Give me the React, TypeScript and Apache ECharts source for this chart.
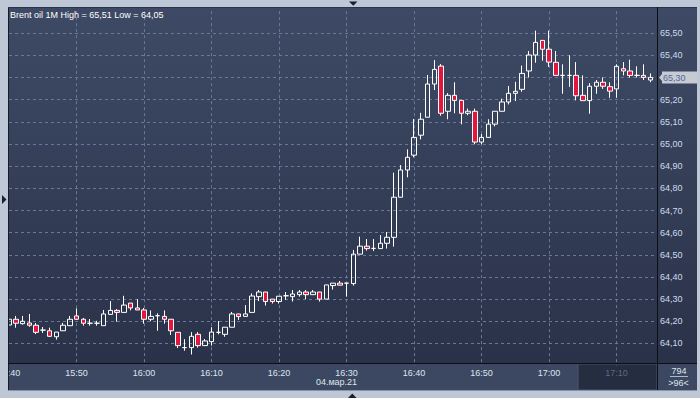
import React, { useEffect, useRef } from 'react';
import * as echarts from 'echarts';

const times = [
  '15:40','15:41','15:42','15:43','15:44','15:45','15:46','15:47','15:48','15:49',
  '15:50','15:51','15:52','15:53','15:54','15:55','15:56','15:57','15:58','15:59',
  '16:00','16:01','16:02','16:03','16:04','16:05','16:06','16:07','16:08','16:09',
  '16:10','16:11','16:12','16:13','16:14','16:15','16:16','16:17','16:18','16:19',
  '16:20','16:21','16:22','16:23','16:24','16:25','16:26','16:27','16:28','16:29',
  '16:30','16:31','16:32','16:33','16:34','16:35','16:36','16:37','16:38','16:39',
  '16:40','16:41','16:42','16:43','16:44','16:45','16:46','16:47','16:48','16:49',
  '16:50','16:51','16:52','16:53','16:54','16:55','16:56','16:57','16:58','16:59',
  '17:00','17:01','17:02','17:03','17:04','17:05','17:06','17:07','17:08','17:09',
  '17:10','17:11','17:12','17:13','17:14','17:15','17:16'
];

const opens = [
  64.183, 64.209, 64.189, 64.192, 64.182, 64.160, 64.157, 64.130, 64.157, 64.180,
  64.224, 64.209, 64.191, 64.191, 64.180, 64.231, 64.249, 64.240, 64.282, 64.260,
  64.251, 64.209, 64.225, 64.222, 64.209, 64.150, 64.081, 64.081, 64.141, 64.090,
  64.108, 64.150, 64.141, 64.173, 64.233, 64.222, 64.240, 64.311, 64.332, 64.300,
  64.289, 64.315, 64.311, 64.320, 64.332, 64.320, 64.332, 64.300, 64.361, 64.372,
  64.372, 64.370, 64.503, 64.539, 64.529, 64.528, 64.552, 64.579, 64.760, 64.883,
  64.950, 65.040, 65.121, 65.271, 65.352, 65.148, 65.220, 65.197, 65.139, 65.148,
  65.009, 65.030, 65.090, 65.148, 65.190, 65.229, 65.247, 65.330, 65.402, 65.468,
  65.428, 65.369, 65.310, 65.310, 65.310, 65.220, 65.196, 65.261, 65.279, 65.259,
  65.249, 65.340, 65.330, 65.310, 65.310, 65.289
];
const closes = [
  64.209, 64.191, 64.200, 64.182, 64.150, 64.160, 64.132, 64.151, 64.182, 64.209,
  64.209, 64.191, 64.191, 64.191, 64.233, 64.249, 64.240, 64.273, 64.260, 64.251,
  64.209, 64.222, 64.225, 64.209, 64.157, 64.090, 64.081, 64.132, 64.090, 64.111,
  64.151, 64.150, 64.173, 64.233, 64.221, 64.233, 64.314, 64.332, 64.289, 64.289,
  64.313, 64.315, 64.323, 64.332, 64.320, 64.332, 64.300, 64.364, 64.372, 64.363,
  64.372, 64.503, 64.539, 64.528, 64.529, 64.552, 64.579, 64.760, 64.883, 64.940,
  65.030, 65.112, 65.271, 65.337, 65.139, 65.220, 65.197, 65.139, 65.148, 65.009,
  65.030, 65.090, 65.148, 65.190, 65.229, 65.238, 65.319, 65.402, 65.459, 65.428,
  65.370, 65.310, 65.310, 65.310, 65.218, 65.196, 65.261, 65.279, 65.261, 65.239,
  65.351, 65.330, 65.310, 65.310, 65.301, 65.301
];
const lows = [
  64.175, 64.171, 64.185, 64.175, 64.142, 64.147, 64.129, 64.117, 64.156, 64.179,
  64.206, 64.180, 64.180, 64.180, 64.180, 64.231, 64.198, 64.240, 64.249, 64.251,
  64.189, 64.200, 64.157, 64.189, 64.138, 64.079, 64.067, 64.050, 64.081, 64.090,
  64.090, 64.141, 64.130, 64.173, 64.206, 64.222, 64.240, 64.291, 64.271, 64.280,
  64.280, 64.296, 64.289, 64.311, 64.300, 64.320, 64.289, 64.300, 64.343, 64.363,
  64.311, 64.361, 64.503, 64.519, 64.517, 64.528, 64.528, 64.537, 64.760, 64.850,
  64.940, 65.021, 65.121, 65.244, 65.128, 65.112, 65.139, 65.089, 65.130, 64.999,
  64.999, 65.030, 65.080, 65.148, 65.179, 65.194, 65.236, 65.300, 65.367, 65.376,
  65.348, 65.310, 65.227, 65.258, 65.197, 65.196, 65.137, 65.227, 65.249, 65.209,
  65.209, 65.310, 65.300, 65.300, 65.289, 65.279
];
const highs = [
  64.220, 64.224, 64.224, 64.233, 64.192, 64.174, 64.171, 64.151, 64.193, 64.224,
  64.258, 64.215, 64.210, 64.202, 64.251, 64.291, 64.255, 64.315, 64.282, 64.300,
  64.260, 64.249, 64.236, 64.249, 64.209, 64.150, 64.119, 64.151, 64.151, 64.120,
  64.173, 64.201, 64.173, 64.242, 64.233, 64.273, 64.326, 64.341, 64.332, 64.300,
  64.313, 64.332, 64.341, 64.341, 64.341, 64.341, 64.332, 64.364, 64.372, 64.382,
  64.372, 64.522, 64.582, 64.571, 64.571, 64.589, 64.603, 64.871, 64.905, 64.976,
  65.113, 65.141, 65.312, 65.379, 65.361, 65.230, 65.279, 65.197, 65.160, 65.160,
  65.045, 65.112, 65.148, 65.205, 65.262, 65.281, 65.354, 65.420, 65.512, 65.468,
  65.512, 65.420, 65.360, 65.401, 65.370, 65.310, 65.275, 65.289, 65.301, 65.279,
  65.360, 65.370, 65.381, 65.351, 65.360, 65.319
];

const titleText = 'Brent oil 1M High = 65,51 Low = 64,05';
const dateText = '04.мар.21';
const cornerTop = '794';
const cornerBottom = '>96<';
const dimLabel = '17:10';
const lastPrice = 65.30;
const yMin = 64.0;
const yMax = 65.6;
const yStep = 0.1;

const FONT = '"Liberation Sans", Arial, sans-serif';

export default function App() {
  const ref = useRef<HTMLDivElement>(null);
  useEffect(() => {
    if (!ref.current) return;
    const chart = echarts.init(ref.current, undefined, { renderer: 'svg' });
    const candles = opens.map((o, i) => [o, closes[i], lows[i], highs[i]]);
    const fmt = (v: number) => v.toFixed(2).replace('.', ',');
    chart.setOption({
      animation: false,
      backgroundColor: '#bdc7d5',
      grid: { left: 9, right: 43, top: 11.15, bottom: 32.45, outerBoundsMode: 'none', containLabel: false },
      xAxis: {
        type: 'category',
        data: times,
        boundaryGap: false,
        axisLine: { show: false },
        axisTick: { show: false },
        axisLabel: {
          interval: (i: number) => i % 10 === 0,
          margin: 3,
          color: '#dfe5ee',
          fontSize: 9,
          fontFamily: FONT,
          formatter: (v: string) => (v === dimLabel ? '{d|' + v + '}' : v),
          rich: { d: { color: '#5d6984', fontSize: 9, fontFamily: FONT } },
        },
        splitLine: {
          show: true,
          interval: (i: number) => i % 10 === 0 && i > 0,
          lineStyle: { color: '#687898', type: [3, 3], width: 1 },
        },
      },
      yAxis: {
        type: 'value',
        position: 'right',
        min: yMin,
        max: yMax,
        interval: yStep,
        axisLine: { show: false },
        axisTick: { show: false },
        axisLabel: {
          margin: 3,
          color: '#cfdbef',
          fontSize: 9,
          fontFamily: FONT,
          showMinLabel: false,
          showMaxLabel: false,
          formatter: (v: number) => (Math.abs(v - lastPrice) < 1e-6 ? '' : fmt(v)),
        },
        splitLine: {
          show: true,
          showMinLine: false,
          showMaxLine: false,
          lineStyle: { color: '#687898', type: [3, 3], width: 1 },
        },
      },
      series: [
        {
          type: 'candlestick',
          data: candles,
          barWidth: 5,
          itemStyle: {
            color: 'rgba(0,0,0,0)',
            color0: '#e3163d',
            borderColor: '#ffffff',
            borderColor0: '#ffffff',
            borderColorDoji: '#ffffff',
            borderWidth: 1,
          },
          markLine: {
            silent: true,
            symbol: ['none', 'none'],
            lineStyle: { color: 'rgba(0,0,0,0)', width: 1, type: 'solid' },
            data: [{ yAxis: lastPrice }],
            label: {
              show: true,
              position: 'end',
              distance: 5,
              formatter: () => fmt(lastPrice),
              backgroundColor: '#c5cad3',
              color: '#52699a',
              fontSize: 9,
              fontFamily: FONT,
              padding: [1, 12, 1, 1],
              lineHeight: 10,
              opacity: 1,
            },
          },
          markPoint: {
            silent: true,
            symbol: 'path://M0,5L3,0L3,10Z',
            symbolSize: [3, 7],
            symbolKeepAspect: false,
            symbolOffset: [3.5, 0],
            itemStyle: { color: '#c5cad3' },
            label: { show: false },
            data: [{ coord: [times.length - 1, lastPrice] }],
          },
        },
      ],
      graphic: [
        {
          type: 'rect', z: -10, silent: true,
          shape: { x: 8, y: 7, width: 689, height: 357 },
          style: {
            fill: new echarts.graphic.LinearGradient(0, 0, 0, 1, [
              { offset: 0, color: '#3e4a65' },
              { offset: 1, color: '#2a3249' },
            ]),
          },
        },
        {
          type: 'rect', z: -5, silent: true,
          shape: { x: 8, y: 364, width: 689, height: 26 },
          style: { fill: '#3c4861' },
        },
        {
          type: 'rect', z: -4, silent: true,
          shape: { x: 578, y: 364, width: 79, height: 26 },
          style: { fill: '#252d41', stroke: '#4a5570', lineWidth: 1 },
        },
        {
          type: 'rect', z: 50, silent: true,
          shape: { x: 0, y: 0, width: 8, height: 398 },
          style: { fill: '#bdc7d5' },
        },
        {
          type: 'line', z: 51, silent: true,
          shape: { x1: 8.5, y1: 7, x2: 8.5, y2: 390 },
          style: { stroke: '#151b28', lineWidth: 1 },
        },
        {
          type: 'line', z: 51, silent: true,
          shape: { x1: 8, y1: 7.5, x2: 697, y2: 7.5 },
          style: { stroke: '#2a3347', lineWidth: 1 },
        },
        {
          type: 'line', z: 51, silent: true,
          shape: { x1: 657.5, y1: 7, x2: 657.5, y2: 390 },
          style: { stroke: '#0c0f16', lineWidth: 1 },
        },
        {
          type: 'line', z: 51, silent: true,
          shape: { x1: 8, y1: 363.5, x2: 697, y2: 363.5 },
          style: { stroke: '#0c0f16', lineWidth: 1 },
        },
        {
          type: 'line', z: 51, silent: true,
          shape: { x1: 8, y1: 390.5, x2: 697, y2: 390.5 },
          style: { stroke: '#8893a6', lineWidth: 1 },
        },
        {
          type: 'polygon', z: 51, silent: true,
          shape: { points: [[349, 1.5], [357.5, 1.5], [353.3, 5.8]] },
          style: { fill: '#17202f' },
        },
        {
          type: 'polygon', z: 51, silent: true,
          shape: { points: [[2, 195], [2, 204], [6.5, 199.5]] },
          style: { fill: '#17202f' },
        },
        {
          type: 'polygon', z: 51, silent: true,
          shape: { points: [[348, 398], [356.5, 398], [352.3, 393.5]] },
          style: { fill: '#17202f' },
        },
        {
          type: 'text', z: 52, silent: true, x: 10, y: 14.5,
          style: { text: titleText, fill: '#ffffff', fontSize: 9, fontFamily: FONT, verticalAlign: 'middle', align: 'left' },
        },
        {
          type: 'text', z: 52, silent: true, x: 336.5, y: 382,
          style: { text: dateText, fill: '#dfe5ee', fontSize: 9, fontFamily: FONT, verticalAlign: 'middle', align: 'center' },
        },
        {
          type: 'text', z: 52, silent: true, x: 679, y: 371,
          style: { text: cornerTop, fill: '#dfe5ee', fontSize: 9, fontFamily: FONT, verticalAlign: 'middle', align: 'center' },
        },
        {
          type: 'line', z: 52, silent: true,
          shape: { x1: 670, y1: 376.5, x2: 688, y2: 376.5 },
          style: { stroke: '#aeb9cc', lineWidth: 1 },
        },
        {
          type: 'text', z: 52, silent: true, x: 678.5, y: 383,
          style: { text: cornerBottom, fill: '#dfe5ee', fontSize: 9, fontFamily: FONT, verticalAlign: 'middle', align: 'center' },
        },
      ],
    });
    return () => chart.dispose();
  }, []);
  return (
    <div
      ref={ref}
      style={{ position: 'fixed', left: 0, top: 0, width: 700, height: 398 }}
    />
  );
}
